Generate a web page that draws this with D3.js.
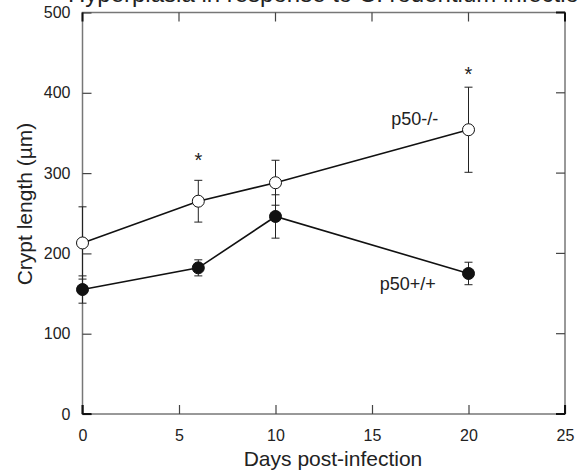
<!DOCTYPE html>
<html>
<head>
<meta charset="utf-8">
<script src="https://cdn.jsdelivr.net/npm/d3@7"></script>
<style>
  body { margin: 0; background: #fff; }
  text { font-family: "Liberation Sans", Arial, sans-serif; fill: #222; }
</style>
</head>
<body>
<script>
// data
const days = [0, 6, 10, 20];
const knockout = [213, 265, 288, 354];      // p50-/-
const knockoutErr = [45, 26, 28, 53];
const wildtype = [155, 182, 246, 175];       // p50+/+
const wildtypeErr = [17, 10, 27, 14];
const starDays = [6, 20];
const starValues = [320, 427];
const xTicks = [0, 5, 10, 15, 20, 25];
const yTicks = [0, 100, 200, 300, 400, 500];

const margin = {top: 12.5, right: 12, bottom: 58, left: 82.5},
    width = 577 - margin.left - margin.right,
    height = 472 - margin.top - margin.bottom;

const x = d3.scaleLinear().domain([0, 25]).range([0, width]);
const y = d3.scaleLinear().domain([0, 500]).range([height, 0]);

const root = d3.select("body").append("svg")
    .attr("width", 577)
    .attr("height", 472);

// title, mostly cut off at the top edge
root.append("text")
    .attr("x", 68)
    .attr("y", 1.5)
    .attr("font-size", 24)
    .attr("fill", "#333")
    .text("Hyperplasia in response to C. rodentium infection");

const svg = root.append("g")
    .attr("transform", "translate(" + margin.left + "," + margin.top + ")");

// frame
svg.append("rect")
    .attr("width", width)
    .attr("height", height)
    .attr("fill", "none")
    .attr("stroke", "#777")
    .attr("stroke-width", 1.5);

const xAxis = d3.axisBottom(x).tickValues(xTicks).tickSize(-9).tickPadding(16);
const yAxis = d3.axisLeft(y).tickValues(yTicks).tickSize(-9).tickPadding(12);

const gx = svg.append("g")
    .attr("transform", "translate(0," + height + ")")
    .call(xAxis);
const gy = svg.append("g").call(yAxis);

[gx, gy].forEach(g => {
  g.select(".domain").remove();
  g.selectAll(".tick line").attr("stroke", "#444").attr("stroke-width", 1.2);
  g.selectAll(".tick text").attr("font-size", 16).attr("fill", "#222")
      .style("font-family", "'Liberation Sans', Arial, sans-serif");
});

// mirrored ticks on top and right
svg.append("g").selectAll("line")
    .data(xTicks.slice(1, -1))
    .join("line")
    .attr("x1", d => x(d)).attr("x2", d => x(d))
    .attr("y1", 0).attr("y2", 9)
    .attr("stroke", "#444").attr("stroke-width", 1.2);
svg.append("g").selectAll("line")
    .data(yTicks.slice(1, -1))
    .join("line")
    .attr("x1", width).attr("x2", width - 9)
    .attr("y1", d => y(d)).attr("y2", d => y(d))
    .attr("stroke", "#444").attr("stroke-width", 1.2);

// dark corner marks
const corners = [[0, height, 9, 0], [0, height, 0, -9], [width, height, -9, 0], [width, height, 0, -9],
                 [0, 0, 0, 9], [width, 0, 0, 9], [width, 0, -9, 0]];
svg.append("g").selectAll("line")
    .data(corners)
    .join("line")
    .attr("x1", d => d[0]).attr("y1", d => d[1])
    .attr("x2", d => d[0] + d[2]).attr("y2", d => d[1] + d[3])
    .attr("stroke", "#111").attr("stroke-width", 2);

// axis titles
svg.append("text")
    .attr("x", 333 - margin.left)
    .attr("y", height + 52)
    .attr("text-anchor", "middle")
    .attr("font-size", 21)
    .text("Days post-infection");
svg.append("text")
    .attr("transform", "translate(" + (25 + 7 - margin.left) + "," + (204 - margin.top) + ") rotate(-90)")
    .attr("text-anchor", "middle")
    .attr("font-size", 21)
    .text("Crypt length (µm)");

const line = d3.line().x(d => x(d[0])).y(d => y(d[1]));

function drawSeries(vals, errs, fill) {
  const pts = days.map((d, i) => [d, vals[i], errs[i]]);
  const g = svg.append("g");
  const eb = g.selectAll(".err").data(pts).join("g");
  eb.append("line")
      .attr("x1", d => x(d[0])).attr("x2", d => x(d[0]))
      .attr("y1", d => y(d[1] - d[2])).attr("y2", d => y(d[1] + d[2]))
      .attr("stroke", "#222").attr("stroke-width", 1);
  [-1, 1].forEach(s => {
    eb.append("line")
        .attr("x1", d => x(d[0]) - 4).attr("x2", d => x(d[0]) + 4)
        .attr("y1", d => y(d[1] + s * d[2])).attr("y2", d => y(d[1] + s * d[2]))
        .attr("stroke", "#222").attr("stroke-width", 1);
  });
  g.append("path")
      .datum(pts)
      .attr("d", line)
      .attr("fill", "none")
      .attr("stroke", "#111")
      .attr("stroke-width", 1.6);
  g.selectAll("circle").data(pts).join("circle")
      .attr("cx", d => x(d[0])).attr("cy", d => y(d[1]))
      .attr("r", 6)
      .attr("fill", fill)
      .attr("stroke", "#111")
      .attr("stroke-width", 1);
}

drawSeries(wildtype, wildtypeErr, "#111");
drawSeries(knockout, knockoutErr, "#fff");

// significance stars
svg.selectAll(".star")
    .data(starDays)
    .join("text")
    .attr("class", "star")
    .attr("x", d => x(d))
    .attr("y", (d, i) => y(starValues[i]) + 10)
    .attr("text-anchor", "middle")
    .attr("font-size", 20)
    .text("*");

// series labels
svg.append("text")
    .attr("x", x(16.0))
    .attr("y", y(360))
    .attr("font-size", 18)
    .text("p50-/-");
svg.append("text")
    .attr("x", x(15.4))
    .attr("y", y(154))
    .attr("font-size", 18)
    .text("p50+/+");
</script>
</body>
</html>
